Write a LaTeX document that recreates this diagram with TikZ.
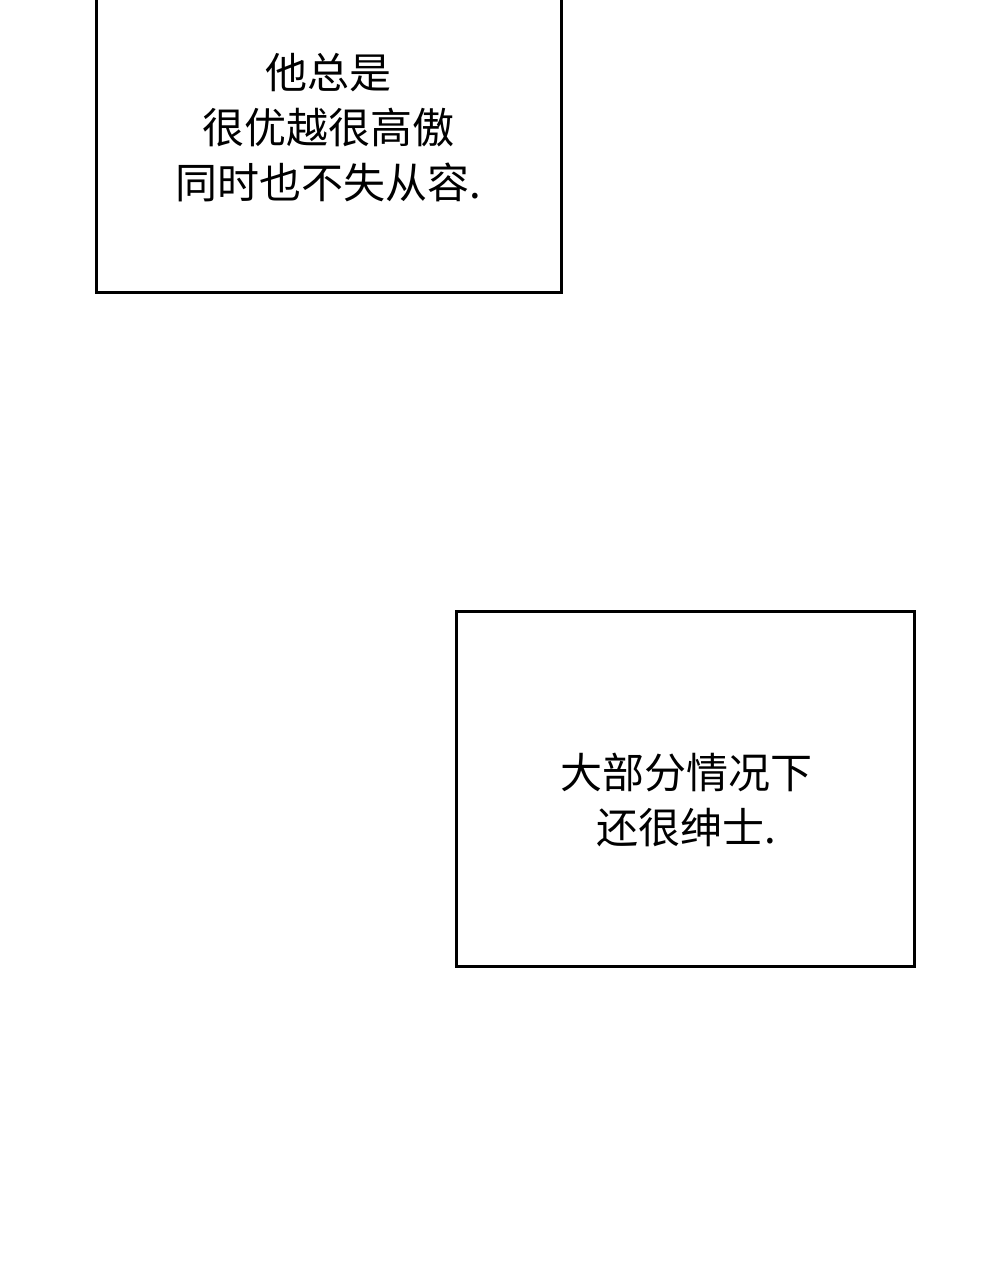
\documentclass[tikz,border=0pt]{standalone}
\usepackage{fontspec}
\newfontfamily\cjk{Noto Sans CJK SC}
\begin{document}
\begin{tikzpicture}[x=1pt,y=-1pt,
  panel/.style={draw=black,line width=3pt,fill=white},
  txt/.style={font=\cjk\fontsize{42}{55}\selectfont,align=center,inner sep=0pt}]
\useasboundingbox (0,0) rectangle (1000,1280);
\draw[panel] (96,-10) rectangle (561,292);
\node[txt] (t1) at (328,128) {他总是\\很优越很高傲\\同时也不失从容.};
\draw[panel] (456,611) rectangle (914,966);
\node[txt] (t2) at (686,800) {大部分情况下\\还很绅士.};
\end{tikzpicture}
\end{document}
